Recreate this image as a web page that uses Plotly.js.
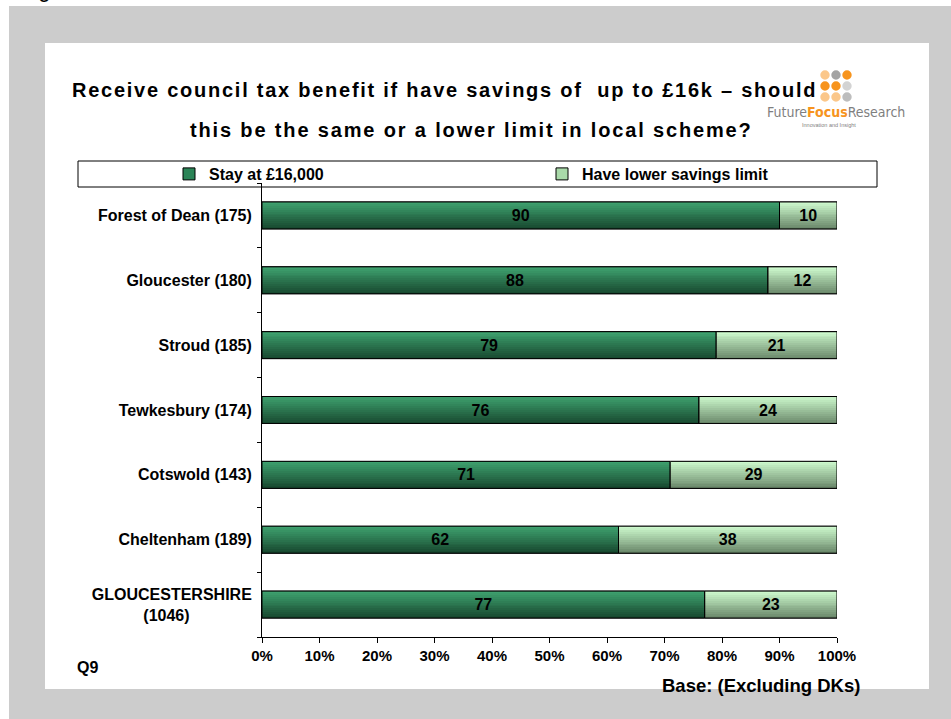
<!DOCTYPE html>
<html><head><meta charset="utf-8">
<script src="https://cdn.plot.ly/plotly-3.0.1.min.js"></script>
<style>html,body{margin:0;padding:0;background:#fff;}#chart{width:951px;height:719px;}</style>
</head><body><div id="chart"></div>
<script>
// ---- data ----
const categories = ["Forest of Dean (175)", "Gloucester (180)", "Stroud (185)", "Tewkesbury (174)", "Cotswold (143)", "Cheltenham (189)", "GLOUCESTERSHIRE (1046)"];
const categoryLabels = ["Forest of Dean (175)", "Gloucester (180)", "Stroud (185)", "Tewkesbury (174)", "Cotswold (143)", "Cheltenham (189)", "GLOUCESTERSHIRE<br>(1046)" + "\u00A0".repeat(14)];
const stayValues = [90, 88, 79, 76, 71, 62, 77];
const lowerValues = [10, 12, 21, 24, 29, 38, 23];
const seriesNames = ["Stay at £16,000", "Have lower savings limit"];
const xTickValues = [0, 10, 20, 30, 40, 50, 60, 70, 80, 90, 100];
const xTickLabels = ["0%", "10%", "20%", "30%", "40%", "50%", "60%", "70%", "80%", "90%", "100%"];
const titleLines = ["Receive council tax benefit if have savings of  up to £16k – should", "this be the same or a lower limit in local scheme?"];

// ---- layout geometry (pixels) ----
const W = 951, H = 719;
const PL = 262, PR = 837, PT = 183, PB = 637;
const px = x => (x - PL) / (PR - PL);
const py = y => (PB - y) / (PB - PT);
const FONT = "Liberation Sans, Arial, sans-serif";
const BW = 0.415;
const NSTRIP = 14;

function mix(a, b, t) {
  return "rgb(" + a.map((v, i) => Math.round(v + (b[i] - v) * t)).join(",") + ")";
}
const grad = [
  {top: [62, 160, 110], bottom: [24, 74, 48], mid: "#2b8457"},
  {top: [204, 248, 204], bottom: [108, 138, 108], mid: "#a9d9a9"}
];

const traces = [];
const seriesX = [stayValues, lowerValues];
const seriesBase = [stayValues.map(() => 0), stayValues];

for (let s = 0; s < 2; s++) {
  // legend / base trace
  traces.push({
    type: "bar", orientation: "h", name: seriesNames[s],
    y: categories, x: seriesX[s], base: seriesBase[s],
    width: BW, marker: {color: grad[s].mid, line: {color: "#000", width: 1}},
    hoverinfo: "skip", showlegend: true
  });
  // gradient strips
  for (let i = 0; i < NSTRIP; i++) {
    traces.push({
      type: "bar", orientation: "h", name: seriesNames[s],
      y: categories, x: seriesX[s], base: seriesBase[s],
      width: BW / NSTRIP + 0.002, offset: -BW / 2 + i * BW / NSTRIP,
      marker: {color: mix(grad[s].top, grad[s].bottom, i / (NSTRIP - 1)), line: {width: 0}},
      hoverinfo: "skip", showlegend: false
    });
  }
  // outline + labels
  traces.push({
    type: "bar", orientation: "h", name: seriesNames[s],
    y: categories, x: seriesX[s], base: seriesBase[s],
    width: BW, offset: -BW / 2,
    marker: {color: "rgba(0,0,0,0)", line: {color: "#000", width: 1}},
    text: seriesX[s].map(String), textposition: "inside", insidetextanchor: "middle",
    constraintext: "none",
    textfont: {family: FONT, size: 16, color: "#000", weight: "bold"},
    showlegend: false
  });
}

const shapes = [
  {type: "rect", xref: "paper", yref: "paper", layer: "below", x0: px(9), x1: px(W + 5), y0: py(H + 5), y1: py(6), fillcolor: "#cccccc", line: {width: 0}},
  {type: "rect", xref: "paper", yref: "paper", layer: "below", x0: px(45), x1: px(929), y0: py(689), y1: py(43), fillcolor: "#ffffff", line: {width: 0}},
  {type: "rect", xref: "paper", yref: "paper", layer: "below", x0: px(78), x1: px(877), y0: py(187), y1: py(161), fillcolor: "rgba(0,0,0,0)", line: {color: "#000", width: 1}}
];
// logo dots
const dots = [
  [825, 75, "#fbc78a"], [836, 75, "#a3a3a3"], [847, 75, "#f7941d"],
  [825, 86, "#f7941d"], [836, 86, "#f7941d"], [847, 86, "#d3d3d3"],
  [825, 97, "#fbc78a"], [836, 97, "#fbc78a"], [847, 97, "#bdbdbd"]
];
dots.forEach(d => shapes.push({type: "circle", xref: "paper", yref: "paper", x0: px(d[0] - 4.7), x1: px(d[0] + 4.7), y0: py(d[1] + 4.7), y1: py(d[1] - 4.7), fillcolor: d[2], line: {width: 0}}));

const annotations = [
  {text: "Figure 3", x: px(18), y: py(4), xanchor: "left", yanchor: "bottom", font: {family: FONT, size: 22, color: "#000"}},
  {text: "<span style=\"letter-spacing:1.75px\"><b>" + titleLines[0] + "</b></span>", x: px(70), y: py(90), xanchor: "left", yanchor: "middle", font: {family: FONT, size: 20, color: "#000"}},
  {text: "<span style=\"letter-spacing:1.85px\"><b>" + titleLines[1] + "</b></span>", x: px(188), y: py(130), xanchor: "left", yanchor: "middle", font: {family: FONT, size: 20, color: "#000"}},
  {text: "Future<span style=\"color:#f7941d\"><b>Focus</b></span>Research", x: px(765), y: py(112), xanchor: "left", yanchor: "middle", font: {family: "Liberation Sans Narrow, DejaVu Sans Condensed, Liberation Sans, sans-serif", size: 14, color: "#7f7f7f"}},
  {text: "Innovation and Insight", x: px(829), y: py(125), xanchor: "center", yanchor: "middle", font: {family: FONT, size: 5.5, color: "#7f7f7f"}},
  {text: "<b>Q9</b>", x: px(75), y: py(667), xanchor: "left", yanchor: "middle", font: {family: FONT, size: 16, color: "#000"}},
  {text: "<b>Base: (Excluding DKs)</b>", x: px(862), y: py(685), xanchor: "right", yanchor: "middle", font: {family: FONT, size: 18.5, color: "#000"}}
].map(a => Object.assign({xref: "paper", yref: "paper", showarrow: false}, a));

const layout = {
  width: W, height: H,
  margin: {l: PL, r: W - PR, t: PT, b: H - PB, pad: 0},
  paper_bgcolor: "#ffffff", plot_bgcolor: "rgba(0,0,0,0)",
  barmode: "overlay", bargap: 0,
  showlegend: true,
  legend: {orientation: "h", x: px(169), y: py(174), xanchor: "left", yanchor: "middle",
    entrywidth: 328, entrywidthmode: "pixels", bgcolor: "rgba(0,0,0,0)", borderwidth: 0,
    font: {family: FONT, size: 16, color: "#000", weight: "bold"}, traceorder: "normal"},
  xaxis: {range: [0, 100], tickmode: "array", tickvals: xTickValues, ticktext: xTickLabels,
    ticks: "outside", ticklen: 5, tickcolor: "#000", tickwidth: 1,
    showline: true, linecolor: "#000", linewidth: 1, showgrid: false, zeroline: false,
    tickfont: {family: FONT, size: 15, color: "#000", weight: "bold"}, fixedrange: true},
  yaxis: {type: "category", categoryorder: "array", categoryarray: categories,
    range: [6.5, -0.5], tickmode: "array", tickvals: categories, ticktext: categoryLabels,
    ticks: "outside", tickson: "boundaries", ticklen: 4, tickcolor: "#000", tickwidth: 1,
    showline: true, linecolor: "#000", linewidth: 1, showgrid: false, zeroline: false,
    ticklabelstandoff: 6,
    tickfont: {family: FONT, size: 16, color: "#000", weight: "bold"}, fixedrange: true},
  shapes: shapes, annotations: annotations
};

Plotly.newPlot("chart", traces, layout, {displayModeBar: false, staticPlot: true});
</script>
</body></html>
